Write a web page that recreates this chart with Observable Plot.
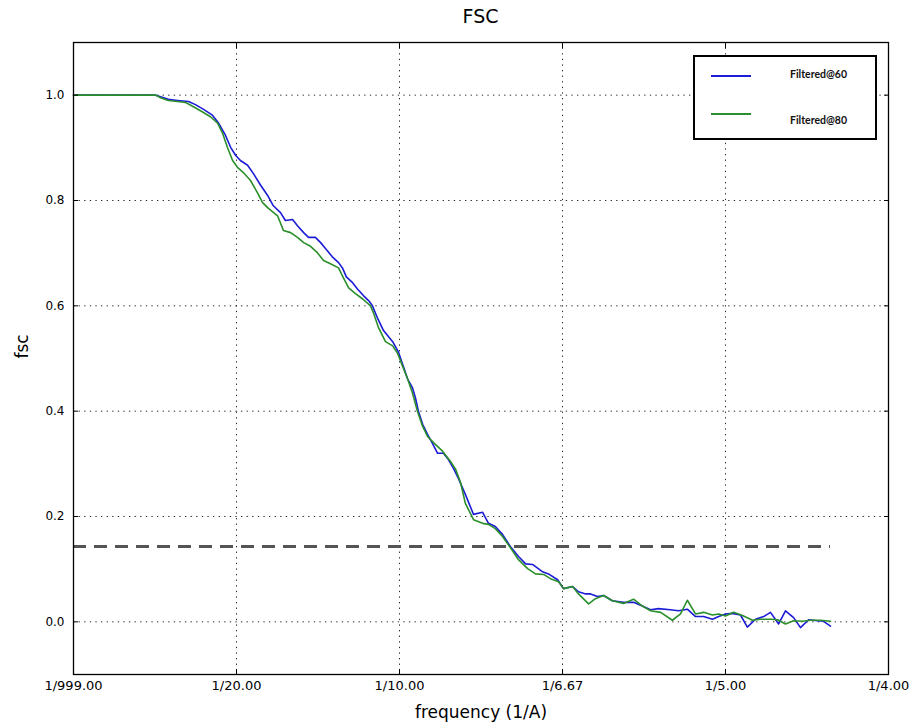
<!DOCTYPE html>
<html><head><meta charset="utf-8">
<script src="https://cdn.jsdelivr.net/npm/d3@7"></script>
<script src="https://cdn.jsdelivr.net/npm/@observablehq/plot@0.6"></script>
<style>
body{margin:0;background:#fff;}
#wrap{position:relative;width:914px;height:725px;font-family:"DejaVu Sans",sans-serif;}
#title{position:absolute;left:73px;width:815px;top:5px;text-align:center;font-size:19px;font-family:"DejaVu Sans",sans-serif;color:#000;}
#legend{position:absolute;left:693px;top:55px;width:184px;height:85px;box-sizing:border-box;border:2px solid #000;background:#fff;}
.sw{position:absolute;left:16px;width:40px;height:0;border-top:2px solid;}
.lt{position:absolute;left:95px;font-family:Lato,"Open Sans",sans-serif;font-weight:700;font-size:10.5px;color:#111;line-height:12px;}
</style></head>
<body><div id="wrap"><div id="title">FSC</div></div>
<script>
// Data (frequency in 1/A, FSC value)
const freq60 = [0,0.0252,0.0267,0.0291,0.0319,0.0353,0.0374,0.0399,0.0426,0.0445,0.0466,0.0482,0.0497,0.0512,0.0534,0.0552,0.0574,0.0595,0.0613,0.0635,0.0650,0.0672,0.0687,0.0706,0.0721,0.0742,0.0758,0.0773,0.0794,0.0813,0.0825,0.0837,0.0856,0.0871,0.0890,0.0905,0.0917,0.0933,0.0951,0.0979,0.0997,0.1009,0.1025,0.1040,0.1049,0.1058,0.1071,0.1086,0.1101,0.1117,0.1135,0.1150,0.1166,0.1181,0.1202,0.1227,0.1255,0.1273,0.1294,0.1316,0.1340,0.1365,0.1387,0.1408,0.1439,0.1457,0.1485,0.1503,0.1531,0.1549,0.1571,0.1586,0.1607,0.1626,0.1653,0.1687,0.1718,0.1745,0.1770,0.1794,0.1831,0.1856,0.1883,0.1908,0.1933,0.1960,0.1979,0.2000,0.2021,0.2046,0.2067,0.2092,0.2117,0.2138,0.2163,0.2184,0.2209,0.2230,0.2255,0.2282,0.2301,0.2322];
const fsc60 = [1.0,1.0,0.997,0.992,0.990,0.988,0.982,0.973,0.962,0.947,0.924,0.901,0.886,0.876,0.867,0.851,0.829,0.810,0.790,0.777,0.762,0.764,0.752,0.739,0.730,0.730,0.720,0.709,0.693,0.682,0.672,0.655,0.644,0.632,0.619,0.610,0.600,0.576,0.553,0.532,0.512,0.490,0.461,0.444,0.425,0.400,0.375,0.356,0.339,0.320,0.320,0.308,0.291,0.272,0.242,0.204,0.208,0.187,0.181,0.166,0.143,0.124,0.110,0.109,0.095,0.091,0.080,0.063,0.067,0.057,0.053,0.053,0.048,0.050,0.040,0.037,0.037,0.030,0.023,0.025,0.023,0.021,0.024,0.010,0.010,0.005,0.010,0.015,0.016,0.013,-0.010,0.005,0.010,0.018,-0.004,0.021,0.008,-0.011,0.004,0.002,0.001,-0.008];
const freq80 = [0,0.0252,0.0267,0.0291,0.0319,0.0344,0.0368,0.0396,0.0420,0.0442,0.0457,0.0472,0.0488,0.0503,0.0521,0.0543,0.0564,0.0580,0.0598,0.0626,0.0644,0.0666,0.0687,0.0706,0.0727,0.0748,0.0767,0.0788,0.0813,0.0828,0.0844,0.0865,0.0887,0.0911,0.0920,0.0936,0.0957,0.0979,0.0994,0.1009,0.1025,0.1040,0.1055,0.1071,0.1086,0.1110,0.1132,0.1156,0.1172,0.1187,0.1202,0.1227,0.1255,0.1273,0.1294,0.1316,0.1340,0.1365,0.1393,0.1417,0.1442,0.1463,0.1488,0.1503,0.1531,0.1549,0.1580,0.1601,0.1626,0.1653,0.1687,0.1718,0.1745,0.1770,0.1801,0.1837,0.1862,0.1883,0.1908,0.1933,0.1960,0.1979,0.2000,0.2025,0.2052,0.2083,0.2107,0.2138,0.2160,0.2184,0.2209,0.2236,0.2261,0.2291,0.2322];
const fsc80 = [1.0,1.0,0.995,0.990,0.988,0.986,0.978,0.968,0.959,0.947,0.928,0.901,0.876,0.863,0.853,0.838,0.815,0.796,0.785,0.771,0.743,0.739,0.730,0.720,0.713,0.701,0.686,0.680,0.672,0.653,0.634,0.623,0.613,0.600,0.587,0.558,0.532,0.524,0.510,0.486,0.461,0.434,0.400,0.371,0.352,0.337,0.324,0.305,0.290,0.265,0.225,0.194,0.187,0.185,0.177,0.162,0.141,0.118,0.101,0.091,0.090,0.082,0.076,0.063,0.067,0.053,0.034,0.044,0.050,0.040,0.035,0.043,0.030,0.021,0.018,0.003,0.015,0.041,0.015,0.018,0.013,0.015,0.011,0.018,0.012,0.003,0.005,0.005,0.004,-0.004,0.002,0.001,0.003,0.003,0.001];
const seriesNames = ["Filtered@60", "Filtered@80"];
const seriesColors = ["#1c1cd6", "#2b8f2b"];
const xTicks = [0, 0.05, 0.1, 0.15, 0.2, 0.25];
const xTickLabels = ["1/999.00", "1/20.00", "1/10.00", "1/6.67", "1/5.00", "1/4.00"];
const yTicks = [0, 0.2, 0.4, 0.6, 0.8, 1.0];
const threshold = 0.143;
const thresholdEnd = 0.2322;

const rows = [
  ...freq60.map((f, i) => ({f, v: fsc60[i], s: seriesNames[0]})),
  ...freq80.map((f, i) => ({f, v: fsc80[i], s: seriesNames[1]}))
];

const noText = () => "";
const chart = Plot.plot({
  width: 914, height: 725,
  marginTop: 42, marginBottom: 51, marginLeft: 73, marginRight: 26,
  style: {fontFamily: "DejaVu Sans", fontSize: "12px", background: "white", color: "black", overflow: "visible"},
  x: {type: "linear", domain: [0, 0.25]},
  y: {type: "linear", domain: [-0.1, 1.1]},
  color: {domain: seriesNames, range: seriesColors},
  marks: [
    Plot.gridX(xTicks.slice(1, -1), {stroke: "#000", strokeOpacity: 0.85, strokeWidth: 1, strokeDasharray: "1.3,4.3"}),
    Plot.gridY(yTicks, {stroke: "#000", strokeOpacity: 0.85, strokeWidth: 1, strokeDasharray: "1.3,4.3"}),
    Plot.ruleY([threshold], {x1: 0, x2: thresholdEnd, stroke: "#555", strokeWidth: 3, strokeDasharray: "13,8"}),
    Plot.line(rows, {x: "f", y: "v", z: "s", stroke: "s", strokeWidth: 1.6}),
    Plot.frame({stroke: "#000", strokeWidth: 1.3}),
    Plot.axisX(xTicks, {anchor: "bottom", tickSize: 0, tickPadding: 6, tickFormat: d => xTickLabels[xTicks.indexOf(d)], fontSize: 13, fontFamily: "DejaVu Sans", label: null}),
    Plot.axisX(xTicks, {anchor: "bottom", tickSize: -5, tickFormat: noText, label: null}),
    Plot.axisX(xTicks, {anchor: "top", tickSize: -5, tickFormat: noText, label: null}),
    Plot.axisY(yTicks, {anchor: "left", tickSize: 0, tickPadding: 9, tickFormat: d3.format(".1f"), fontSize: 12, label: null}),
    Plot.axisY(yTicks, {anchor: "left", tickSize: -5, tickFormat: noText, label: null}),
    Plot.axisY(yTicks, {anchor: "right", tickSize: -5, tickFormat: noText, label: null}),
    Plot.text(["frequency (1/A)"], {frameAnchor: "bottom", dy: 43, fontSize: 17, fontFamily: "DejaVu Sans"}),
    Plot.text(["fsc"], {frameAnchor: "left", dx: -51, rotate: -90, fontSize: 17, fontFamily: "DejaVu Sans"})
  ]
});
document.getElementById("wrap").appendChild(chart);

const legend = document.createElement("div");
legend.id = "legend";
seriesNames.forEach((name, i) => {
  const sw = document.createElement("div");
  sw.className = "sw";
  sw.style.top = (i === 0 ? 18 : 56) + "px";
  sw.style.borderTopColor = seriesColors[i];
  legend.appendChild(sw);
  const t = document.createElement("div");
  t.className = "lt";
  t.style.top = (i === 0 ? 11 : 57) + "px";
  t.textContent = name;
  legend.appendChild(t);
});
document.getElementById("wrap").appendChild(legend);
</script>
</body></html>
